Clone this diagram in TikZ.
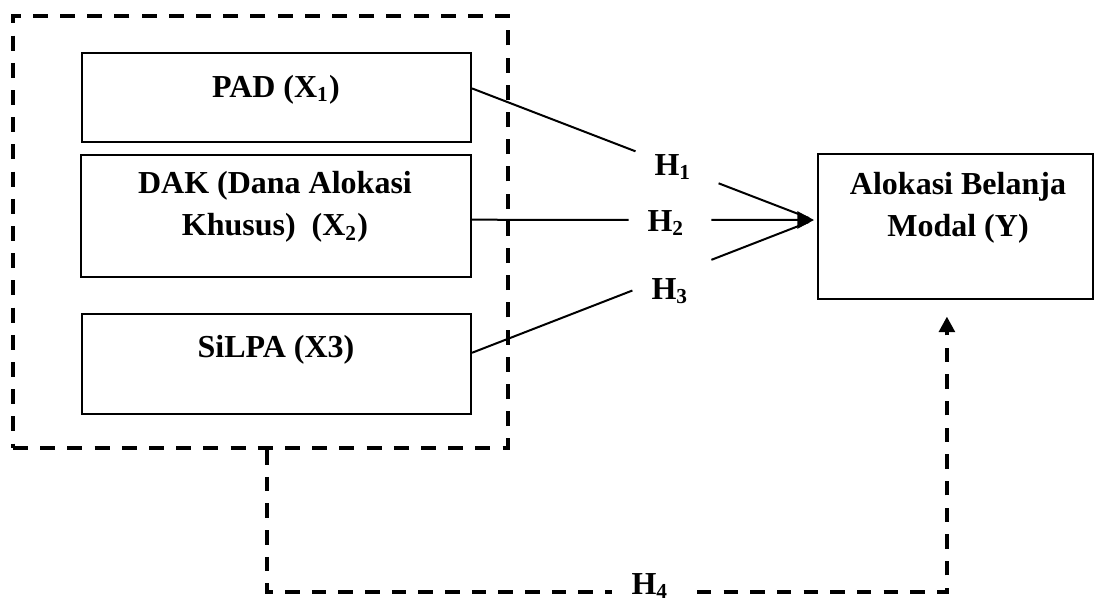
\documentclass[tikz,border=0pt]{standalone}
\usepackage{fontspec}
\setmainfont{Liberation Serif}
\usetikzlibrary{arrows.meta,calc,fit}
\tikzset{
  box/.style={draw=black,line width=0.75pt,inner sep=0pt},
  groupbox/.style={draw=black,line width=1.6pt,dash pattern=on 5.6pt off 4.6pt,inner sep=0pt},
  txt/.style={font=\bfseries\fontsize{12}{15.6}\selectfont,inner sep=0pt,align=center},
  conn/.style={draw=black,line width=0.75pt},
  dline/.style={draw=black,line width=1.6pt,dash pattern=on 5.4pt off 4.6pt},
  tipA/.style={-{Triangle[length=6.2pt,width=6.4pt]}},
  tipB/.style={-{Triangle[length=5.8pt,width=5.8pt]}}
}
\begin{document}
\begin{tikzpicture}[x=0.375pt,y=-0.375pt]
\useasboundingbox (0,0) rectangle (1094,602);
% boxes
\node[groupbox,fit={(13,16) (508,448)}] (G) {};
\node[box,fit={(82,53) (471,142)}] (PAD) {};
\node[box,fit={(81,155) (471,277)}] (DAK) {};
\node[box,fit={(82,314) (471,414)}] (SILPA) {};
\node[box,fit={(818,154) (1093,299)}] (Y) {};
% texts
\node[txt,anchor=base] (PADt) at (276,97) {PAD (X\textsubscript{1})};
\node[txt] (DAKt) at (275,207) {DAK (Dana Alokasi\\Khusus)\ \ (X\textsubscript{2})};
\node[txt,anchor=base] (SILPAt) at (276,357) {SiLPA (X3)};
\node[txt] (Yt) at (958,208) {Alokasi Belanja\\Modal (Y)};
% hypothesis labels
\node[txt,anchor=base] (H1) at (673,175) {H\textsubscript{1}};
\node[txt,anchor=base] (H2) at (666,231) {H\textsubscript{2}};
\node[txt,anchor=base] (H3) at (670,299) {H\textsubscript{3}};
\node[txt,anchor=base] (H4) at (650,594) {H\textsubscript{4}};
% connectors
\coordinate (tip) at (814,220);
\coordinate (p1) at ($(PAD.north east)!0.4!(PAD.south east)$);
\coordinate (d1) at ($(DAK.north east)!0.53!(DAK.south east)$);
\coordinate (s1) at ($(SILPA.north east)!0.39!(SILPA.south east)$);
\draw[conn] (p1) -- ($(p1)!0.478!(tip)$);
\draw[conn,shorten >=2pt] ($(p1)!0.721!(tip)$) -- (tip);
\draw[conn] (d1) -- ($(d1)!0.458!(tip)$);
\draw[conn,tipA] ($(d1)!0.70!(tip)$) -- (tip);
\draw[conn] (s1) -- ($(s1)!0.469!(tip)$);
\draw[conn,shorten >=2pt] ($(s1)!0.70!(tip)$) -- (tip);
% H4 dashed connector
\coordinate (hy) at (0,592);
\coordinate (g1) at ($(G.south west)!0.513!(G.south east)$);
\coordinate (y1) at ($(Y.south west)!0.469!(Y.south east)$);
\draw[dline] (g1) -- (g1 |- hy) -- ($(H4.center |- hy)+(-38,0)$);
\draw[dline,tipB,shorten >=6.2pt] ($(H4.center |- hy)+(47,0)$) -- (y1 |- hy) -- (y1);
\end{tikzpicture}
\end{document}
